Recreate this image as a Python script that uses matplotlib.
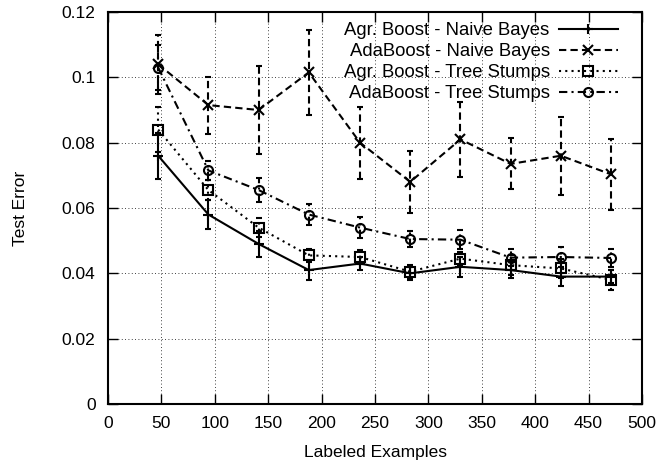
import matplotlib
matplotlib.use("Agg")
import matplotlib.pyplot as plt

plt.rcParams['font.family'] = ['Liberation Sans', 'DejaVu Sans']

x = [47, 94, 141, 188, 236, 283, 330, 377, 424, 471]

agr_nb = [0.076, 0.058, 0.049, 0.041, 0.043, 0.040, 0.042, 0.041, 0.039, 0.039]
agr_nb_err = [0.007, 0.0045, 0.004, 0.003, 0.002, 0.002, 0.003, 0.0025, 0.003, 0.002]

ada_nb = [0.104, 0.0915, 0.090, 0.1015, 0.080, 0.068, 0.081, 0.0735, 0.076, 0.0703]
ada_nb_err = [0.009, 0.0087, 0.0135, 0.013, 0.011, 0.0095, 0.0115, 0.0078, 0.012, 0.0108]

agr_ts = [0.084, 0.0655, 0.054, 0.0455, 0.045, 0.0405, 0.0445, 0.0425, 0.0415, 0.038]
agr_ts_err = [0.007, 0.003, 0.003, 0.002, 0.002, 0.002, 0.002, 0.003, 0.003, 0.003]

ada_ts = [0.103, 0.0715, 0.0655, 0.058, 0.054, 0.0505, 0.0503, 0.0448, 0.045, 0.0447]
ada_ts_err = [0.007, 0.003, 0.0037, 0.0033, 0.0033, 0.0025, 0.003, 0.0025, 0.003, 0.0027]

labels = ["Agr. Boost - Naive Bayes", "AdaBoost - Naive Bayes",
          "Agr. Boost - Tree Stumps", "AdaBoost - Tree Stumps"]

fig = plt.figure(figsize=(6.59, 4.63), dpi=100)
ax = fig.add_axes([108/659, 1-404/463, (642-108)/659, (404-12)/463])

series = [
    (agr_nb, agr_nb_err, '-', '+', 'full'),
    (ada_nb, ada_nb_err, (0, (3.5, 2)), 'x', 'full'),
    (agr_ts, agr_ts_err, (0, (1, 2)), 's', 'none'),
    (ada_ts, ada_ts_err, (0, (4, 2, 1, 2)), 'o', 'none'),
]
handles = []
for (y, e, ls, m, fill), lab in zip(series, labels):
    c = ax.errorbar(x, y, yerr=e, color='black', lw=1.5, ls=ls, marker=m,
                    ms=6.5, mew=1.5, fillstyle=fill, capsize=2.5, capthick=1.5,
                    elinewidth=1.5, label=lab)
    for bl in c[2]:
        bl.set_linestyle(ls)
    handles.append(c[0])

ax.set_xlim(0, 500)
ax.set_ylim(0, 0.12)
ax.set_xticks(range(0, 501, 50))
ax.set_yticks([0, 0.02, 0.04, 0.06, 0.08, 0.1, 0.12])
ax.set_yticklabels(['0', '0.02', '0.04', '0.06', '0.08', '0.1', '0.12'])
ax.grid(True, color='black', ls=(0, (1, 3)), lw=0.6)
ax.tick_params(axis='both', direction='in', length=7, width=1, top=True, right=True,
               labelsize=12.5, colors='black')
ax.tick_params(axis='x', pad=9)
ax.tick_params(axis='y', pad=9)
for sp in ax.spines.values():
    sp.set_linewidth(1.5)
ax.set_xlabel('Labeled Examples', fontsize=12.5, labelpad=10)
ax.set_ylabel('Test Error', fontsize=12.5, labelpad=24)

leg = ax.legend(handles, labels, loc='upper right', frameon=False,
                markerfirst=False, fontsize=13.3, handlelength=3.2,
                numpoints=1, labelspacing=0.22, borderaxespad=0, borderpad=0,
                handletextpad=0.5,
                bbox_to_anchor=((618-108)/534, (404-22)/392))

fig.savefig('out.png', dpi=100)
